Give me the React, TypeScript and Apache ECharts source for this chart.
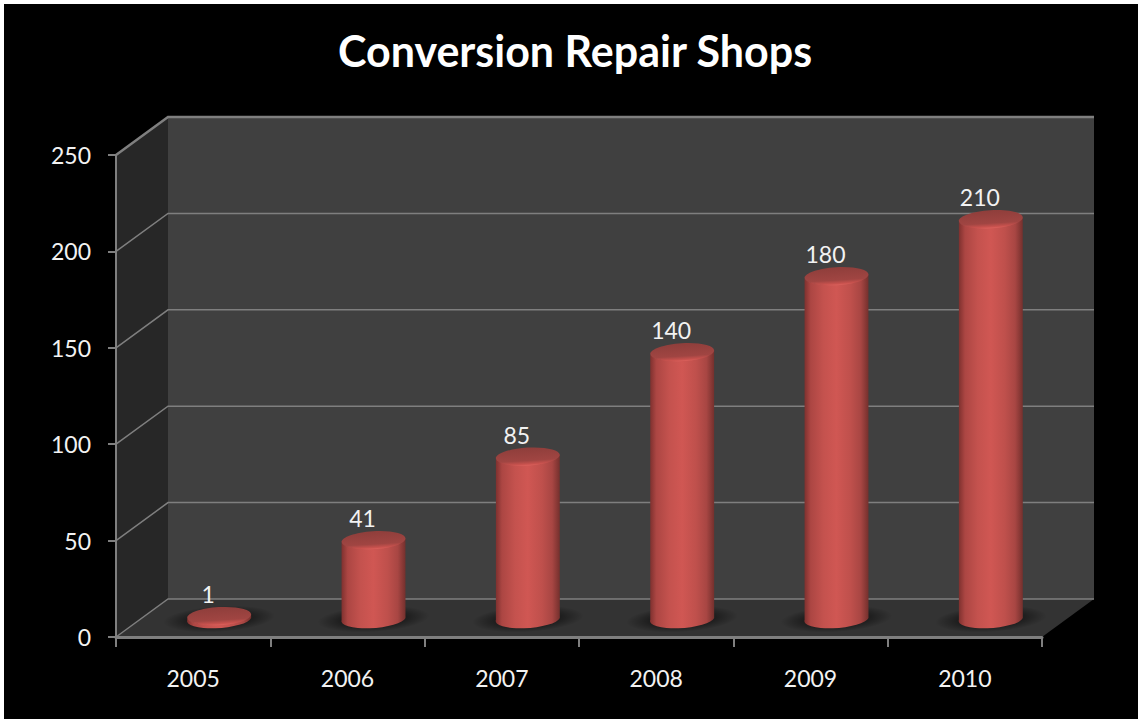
import React, { useEffect, useRef } from "react";
import * as echarts from "echarts";

const TITLE = "Conversion Repair Shops";
const years = ["2005", "2006", "2007", "2008", "2009", "2010"];
const shops = [1, 41, 85, 140, 180, 210];
const yTicks = [0, 50, 100, 150, 200, 250];

const FONT = "Lato, 'Open Sans', sans-serif";
const DX = 52;
const DY = -38;
const GRAY = "#7f7f7f";
const TILT = (3.5 * Math.PI) / 180;

const renderFrame = (params: any) => {
  const c = params.coordSys;
  const l = c.x, r = c.x + c.width, t = c.y, b = c.y + c.height;
  return {
    type: "group",
    children: [
      { type: "polygon", shape: { points: [[l + DX, t + DY], [r + DX, t + DY], [r + DX, b + DY], [l + DX, b + DY]] }, style: { fill: "#404040" } },
      { type: "polygon", shape: { points: [[l, t], [l + DX, t + DY], [l + DX, b + DY], [l, b]] }, style: { fill: "#272727" } },
      { type: "polygon", shape: { points: [[l, b], [l + DX, b + DY], [r + DX, b + DY], [r, b]] }, style: { fill: "#333333" } },
    ],
  };
};

const renderGridLine = (params: any, api: any) => {
  const c = params.coordSys;
  const p = api.coord([0, api.value(1)]);
  const v = api.value(1);
  return {
    type: "polyline",
    shape: { points: [[c.x, p[1]], [c.x + DX, p[1] + DY], [c.x + c.width + DX, p[1] + DY]] },
    style: { stroke: GRAY, lineWidth: v === 250 ? 2.5 : 1.5, fill: "none" },
  };
};

const renderBar = (params: any, api: any) => {
  const c = params.coordSys;
  const v = api.value(1);
  const p = api.coord([api.value(0), v]);
  const base = c.y + c.height;
  const cx = p[0] + DX / 2;
  const cy0 = base + DY / 2;
  const cyTop = cy0 - (base - p[1]) * 0.985;
  const rx = 32;
  const ry = 9;
  const lift = rx * Math.sin(TILT);
  const rxc = rx * Math.cos(TILT);
  const deg = (-TILT * 180) / Math.PI;
  const d =
    `M${cx - rxc} ${cyTop + lift}L${cx - rxc} ${cy0 + lift}` +
    `A${rx} ${ry} ${deg} 0 0 ${cx + rxc} ${cy0 - lift}` +
    `L${cx + rxc} ${cyTop - lift}` +
    `A${rx} ${ry} ${deg} 0 1 ${cx - rxc} ${cyTop + lift}Z`;
  return {
    type: "group",
    children: [
      {
        type: "ellipse",
        x: cx,
        y: cy0 + 1,
        rotation: TILT,
        shape: { cx: 0, cy: 0, rx: 56, ry: 13 },
        style: {
          fill: {
            type: "radial", x: 0.5, y: 0.5, r: 0.5,
            colorStops: [
              { offset: 0, color: "rgba(0,0,0,0.6)" },
              { offset: 0.6, color: "rgba(0,0,0,0.4)" },
              { offset: 1, color: "rgba(0,0,0,0)" },
            ],
          },
        },
      },
      {
        type: "path",
        shape: { pathData: d },
        style: {
          fill: {
            type: "linear", x: 0, y: 0, x2: 1, y2: 0,
            colorStops: [
              { offset: 0, color: "#7d302e" },
              { offset: 0.1, color: "#ac4643" },
              { offset: 0.3, color: "#c4524e" },
              { offset: 0.5, color: "#d05753" },
              { offset: 0.72, color: "#bf504c" },
              { offset: 0.88, color: "#a84643" },
              { offset: 1, color: "#74302d" },
            ],
          },
        },
      },
      {
        type: "ellipse",
        x: cx,
        y: cyTop,
        rotation: TILT,
        shape: { cx: 0, cy: 0, rx, ry },
        style: {
          fill: {
            type: "linear", x: 0, y: 0, x2: 0, y2: 1,
            colorStops: [
              { offset: 0, color: "#8f3e3b" },
              { offset: 0.72, color: "#a04542" },
              { offset: 0.92, color: "#c9524e" },
              { offset: 1, color: "#dc625d" },
            ],
          },
        },
      },
      {
        type: "text",
        style: {
          text: String(v),
          x: cx - 11,
          y: cyTop - 22,
          fill: "#f2f2f2",
          font: `23px ${FONT}`,
          align: "center",
          verticalAlign: "middle",
        },
      },
    ],
  };
};

export default function App() {
  const ref = useRef<HTMLDivElement>(null);
  useEffect(() => {
    document.body.style.margin = "0";
    const chart = echarts.init(ref.current!, null, { renderer: "svg" });
    chart.setOption({
      animation: false,
      backgroundColor: "#ffffff",
      graphic: [
        {
          type: "rect",
          z: -10,
          shape: { x: 4, y: 4, width: 1134, height: 715 },
          style: { fill: "#000000" },
        },
      ],
      title: {
        text: TITLE,
        left: 570,
        top: 24,
        textAlign: "center",
        textStyle: { color: "#ffffff", fontFamily: FONT, fontWeight: "bold", fontSize: 43 },
      },
      grid: { left: 116, top: 155, width: 926, height: 482 },
      xAxis: {
        type: "category",
        data: years,
        z: 10,
        axisLine: { lineStyle: { color: GRAY, width: 3 } },
        axisTick: { show: true, length: 10, lineStyle: { color: GRAY, width: 2 } },
        axisLabel: { color: "#f2f2f2", fontFamily: FONT, fontSize: 23, margin: 29 },
      },
      yAxis: {
        type: "value",
        min: 0,
        max: 250,
        interval: 50,
        z: 10,
        splitLine: { show: false },
        axisLine: { show: true, lineStyle: { color: GRAY, width: 2 } },
        axisTick: { show: true, length: 8, lineStyle: { color: GRAY, width: 2 } },
        axisLabel: { color: "#f2f2f2", fontFamily: FONT, fontSize: 23, margin: 25 },
      },
      series: [
        { type: "custom", silent: true, clip: false, z: 1, data: [[years[0], 0]], encode: { x: 0, y: 1 }, renderItem: renderFrame },
        { type: "custom", silent: true, clip: false, z: 2, data: yTicks.map((t) => [years[0], t]), encode: { x: 0, y: 1 }, renderItem: renderGridLine },
        { type: "custom", silent: true, clip: false, z: 3, data: years.map((y, i) => [y, shops[i]]), encode: { x: 0, y: 1 }, renderItem: renderBar },
      ],
    });
    return () => chart.dispose();
  }, []);
  return <div ref={ref} style={{ width: 1138, height: 719 }} />;
}
